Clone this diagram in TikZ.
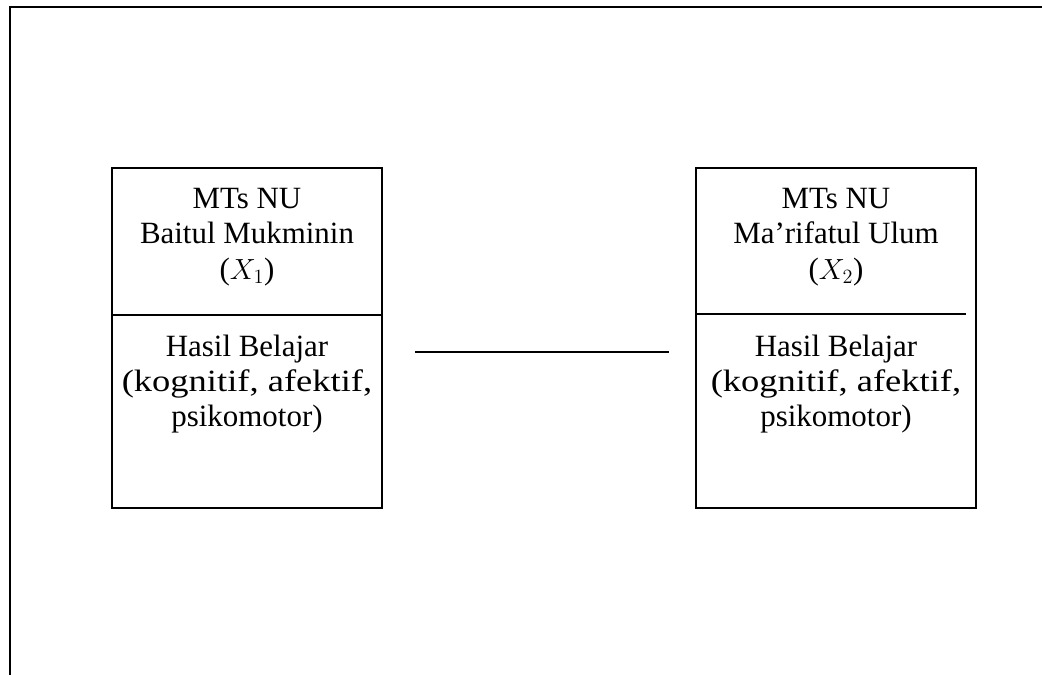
\documentclass[tikz,border=0pt]{standalone}
\usepackage{fontspec}
\setmainfont{Liberation Serif}
\usetikzlibrary{positioning}
\tikzset{
  schoolbox/.style={draw, line width=1.1pt, inner sep=0pt, outer sep=0pt, anchor=north west},
  boxtext/.style={align=center, inner sep=0pt, font=\fontsize{22}{25.2}\selectfont},
}
\newcommand{\widerline}[1]{\scalebox{1.18}[1]{#1}}
\begin{document}
\begin{tikzpicture}[x=0.025cm, y=-0.025cm]
    % ==== PAGE ====
    \useasboundingbox (0,0) rectangle (1042,675);
    \draw[line width=1.5pt] (10,675) -- (10,7) -- (1042,7);

    % ==== BOX X1 ====
    \node[schoolbox, minimum width=6.75cm, minimum height=8.5cm] (boxA) at (112,168) {};
    \draw[line width=1.1pt] (112,315) -- (382,315);
    \node[boxtext] (boxAtop) at (247,237) {MTs NU\\Baitul Mukminin\\($X_1$)};
    \node[boxtext] (boxAbottom) at (247,384) {Hasil Belajar\\\widerline{(kognitif, afektif,}\\psikomotor)};

    % ==== BOX X2 ====
    \node[schoolbox, minimum width=7cm, minimum height=8.5cm] (boxB) at (696,168) {};
    \draw[line width=1.1pt] (696,314) -- (966,314);
    \node[boxtext] (boxBtop) at (836,237) {MTs NU\\Ma’rifatul Ulum\\($X_2$)};
    \node[boxtext] (boxBbottom) at (836,384) {Hasil Belajar\\\widerline{(kognitif, afektif,}\\psikomotor)};

    % ==== LINE BETWEEN BOXES ====
    \coordinate (linkstart) at (415,352);
    \coordinate (linkend) at (669,352);
    \draw[line width=1.2pt] (linkstart) -- (linkend);
\end{tikzpicture}
\end{document}
